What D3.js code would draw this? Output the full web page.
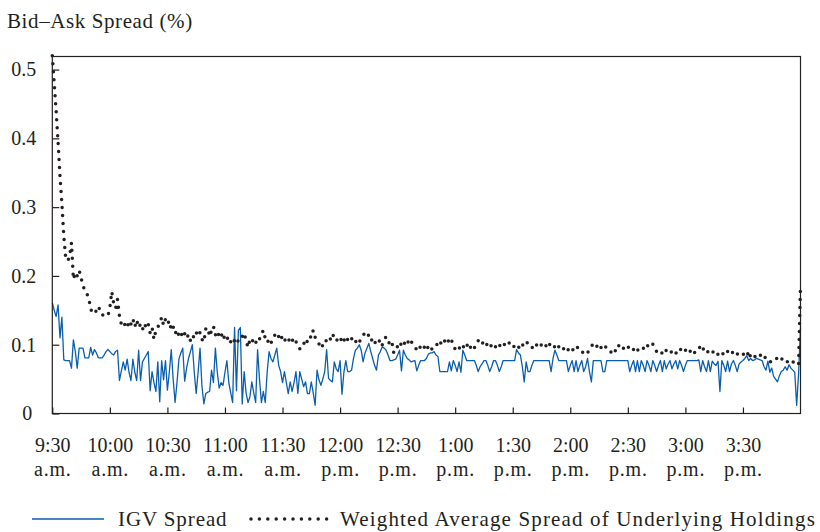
<!DOCTYPE html>
<html><head><meta charset="utf-8">
<script src="https://cdn.jsdelivr.net/npm/d3@7"></script>
<style>
body{margin:0;background:#fff;}
text{font-family:"Liberation Serif","Times New Roman",serif;fill:#231f20;}
</style></head>
<body><svg id="c" width="820" height="532"></svg>
<script>
// minutes after 9:30 a.m. (0..390), one value per minute
const tickMinutes = [0,30,60,90,120,150,180,210,240,270,300,330,360];
const tickTimes = ["9:30","10:00","10:30","11:00","11:30","12:00","12:30","1:00","1:30","2:00","2:30","3:00","3:30"];
const tickPeriods = ["a.m.","a.m.","a.m.","a.m.","a.m.","p.m.","p.m.","p.m.","p.m.","p.m.","p.m.","p.m.","p.m."];
const yTicks = [0,0.1,0.2,0.3,0.4,0.5];
const seriesNames = ["IGV Spread","Weighted Average Spread of Underlying Holdings"];

const igvSpread = [
.161,.150,.141,.158,.110,.140,.078,.077,.077,.077,
.066,.107,.090,.066,.095,.095,.095,.081,.081,.081,
.096,.085,.093,.088,.081,.081,.081,.085,.090,.093,
.090,.087,.085,.090,.092,.048,.062,.075,.063,.079,
.060,.048,.079,.060,.048,.092,.048,.075,.080,.085,
.090,.033,.061,.045,.032,.075,.017,.077,.049,.077,
.034,.060,.093,.050,.016,.045,.079,.088,.095,.047,
.066,.080,.090,.100,.060,.029,.060,.095,.040,.014,
.029,.031,.032,.063,.045,.095,.060,.037,.045,.041,
.060,.077,.045,.030,.016,.125,.033,.121,.125,.014,
.061,.030,.016,.024,.046,.030,.016,.093,.050,.016,
.032,.016,.060,.090,.080,.075,.085,.095,.070,.061,
.045,.061,.045,.029,.046,.032,.045,.061,.029,.061,
.050,.039,.046,.029,.029,.046,.030,.012,.063,.049,
.041,.050,.061,.093,.051,.048,.046,.075,.065,.061,
.077,.028,.060,.077,.061,.061,.063,.080,.092,.095,
.100,.092,.075,.088,.095,.102,.090,.080,.070,.063,
.085,.090,.097,.095,.092,.085,.077,.077,.078,.079,
.085,.092,.062,.092,.085,.080,.078,.075,.076,.077,
.062,.070,.077,.077,.077,.080,.086,.088,.088,.090,
.085,.083,.061,.061,.061,.061,.061,.075,.062,.077,
.070,.061,.075,.060,.092,.085,.077,.077,.077,.077,
.077,.070,.061,.068,.072,.077,.077,.070,.061,.068,
.077,.077,.070,.061,.068,.077,.077,.077,.077,.077,
.077,.077,.093,.088,.085,.068,.046,.075,.061,.061,
.070,.077,.077,.077,.077,.077,.077,.077,.077,.077,
.061,.080,.092,.085,.077,.077,.077,.077,.077,.061,
.070,.077,.061,.077,.061,.070,.077,.061,.068,.080,
.061,.046,.077,.077,.077,.077,.077,.061,.061,.077,
.077,.077,.077,.077,.077,.077,.077,.077,.077,.077,
.077,.061,.070,.077,.061,.077,.061,.077,.070,.061,
.077,.070,.061,.077,.070,.061,.070,.077,.061,.077,
.065,.072,.077,.065,.072,.077,.065,.077,.070,.061,
.070,.077,.077,.077,.077,.077,.077,.078,.061,.077,
.068,.061,.077,.061,.076,.072,.070,.076,.032,.077,
.070,.061,.076,.061,.072,.077,.070,.061,.072,.075,
.077,.080,.084,.077,.080,.077,.078,.080,.079,.078,
.077,.068,.063,.076,.060,.066,.054,.050,.046,.055,
.061,.063,.068,.063,.071,.066,.063,.060,.012,.058,
.125];

const holdingsSpread = [
.520,.480,.440,.395,.345,.305,.258,.225,.222,.228,
.248,.195,.205,.200,.208,.197,.186,.178,.174,.168,
.152,.146,.145,.150,.156,.149,.143,.144,.143,.142,
.154,.177,.160,.153,.166,.142,.130,.134,.128,.133,
.124,.130,.138,.126,.136,.125,.130,.122,.131,.124,
.130,.117,.125,.108,.121,.126,.130,.140,.128,.137,
.130,.135,.121,.126,.116,.122,.113,.118,.110,.116,
.109,.115,.106,.114,.110,.118,.112,.118,.108,.104,
.123,.125,.112,.121,.127,.114,.120,.112,.117,.107,
.114,.108,.112,.104,.110,.105,.110,.104,.109,.112,
.117,.106,.096,.107,.103,.110,.104,.101,.108,.115,
.121,.109,.103,.108,.102,.111,.114,.108,.112,.106,
.114,.108,.104,.109,.103,.108,.101,.105,.097,.094,
.099,.103,.098,.106,.113,.110,.121,.111,.106,.101,
.105,.097,.103,.107,.112,.108,.116,.110,.105,.110,
.112,.103,.108,.102,.108,.104,.109,.103,.106,.100,
.104,.108,.114,.117,.119,.112,.105,.109,.102,.107,
.103,.108,.100,.107,.112,.106,.100,.104,.088,.091,
.098,.104,.099,.105,.100,.106,.101,.106,.098,.096,
.093,.099,.095,.100,.096,.101,.094,.098,.093,.097,
.098,.103,.099,.106,.109,.102,.107,.103,.108,.097,
.094,.098,.094,.099,.095,.102,.098,.103,.096,.100,
.095,.102,.106,.101,.104,.099,.103,.098,.102,.097,
.101,.097,.102,.098,.101,.097,.102,.099,.103,.099,
.101,.095,.093,.097,.093,.099,.102,.106,.100,.098,
.095,.100,.097,.103,.104,.099,.096,.100,.095,.101,
.098,.094,.098,.102,.097,.100,.095,.093,.097,.092,
.095,.091,.096,.093,.097,.093,.091,.087,.090,.088,
.093,.098,.101,.103,.097,.092,.096,.093,.098,.095,
.094,.089,.092,.088,.095,.100,.094,.092,.096,.093,
.097,.094,.097,.093,.088,.092,.094,.097,.094,.100,
.097,.101,.098,.101,.095,.090,.088,.085,.089,.086,
.092,.089,.092,.088,.091,.087,.093,.095,.091,.095,
.092,.089,.093,.088,.092,.088,.090,.093,.100,.096,
.090,.087,.091,.088,.091,.087,.090,.086,.089,.085,
.088,.085,.090,.087,.091,.087,.090,.086,.089,.086,
.087,.084,.082,.091,.082,.085,.082,.086,.083,.085,
.081,.084,.079,.076,.074,.077,.078,.081,.079,.083,
.080,.077,.079,.075,.077,.074,.076,.071,.070,.072,
.187];

const BLUE = "#0b5eae", DARK = "#231f20";
const svg = d3.select("#c");
const L = 52.3, R = 800.5, T = 56.5, B = 413.5;
const x = d3.scaleLinear().domain([0,390]).range([L,R]);
const y = d3.scaleLinear().domain([0,0.519]).range([B,T]);

// title
svg.append("text").attr("x",7).attr("y",28).attr("font-size",21).attr("letter-spacing",0.6).text("Bid–Ask Spread (%)");

// lines
const line = d3.line().x((d,i)=>x(i)).y(d=>y(d));
svg.append("path").datum(igvSpread).attr("d",line).attr("fill","none")
  .attr("stroke",BLUE).attr("stroke-width",1.3).attr("stroke-linejoin","round");
svg.append("path").datum(holdingsSpread).attr("d",line).attr("fill","none")
  .attr("stroke",DARK).attr("stroke-width",3.5).attr("stroke-linecap","round")
  .attr("stroke-dasharray","0 8");

// frame
svg.append("rect").attr("x",L).attr("y",T).attr("width",R-L).attr("height",B-T)
  .attr("fill","none").attr("stroke",DARK).attr("stroke-width",1.2);

// y axis
const ya = svg.append("g").attr("transform",`translate(${L},0)`)
  .call(d3.axisLeft(y).tickValues(yTicks).tickSizeInner(-7).tickSizeOuter(0).tickPadding(16)
    .tickFormat(d=>d===0?"0":d3.format(".1f")(d)));
ya.select(".domain").remove();
ya.selectAll("line").attr("stroke",DARK).attr("stroke-width",1.2);
ya.selectAll("text").attr("font-size",20).attr("font-family",null).attr("fill",DARK)
  .attr("dx",d=>d===0?-4:0);

// x axis
const xa = svg.append("g").attr("transform",`translate(0,${B})`)
  .call(d3.axisBottom(x).tickValues(tickMinutes).tickSizeInner(-6).tickSizeOuter(0)
    .tickFormat(""));
xa.select(".domain").remove();
xa.selectAll("line").attr("stroke",DARK).attr("stroke-width",1.2);
xa.selectAll(".tick").each(function(d,i){
  const t = d3.select(this).append("text").attr("text-anchor","middle").attr("font-size",20).attr("fill",DARK);
  t.append("tspan").attr("x",0).attr("y",38).text(tickTimes[i]);
  t.append("tspan").attr("x",0).attr("y",62).attr("letter-spacing",0.8).text(tickPeriods[i]);
});

// legend
const lg = svg.append("g");
lg.append("line").attr("x1",32).attr("x2",104).attr("y1",519).attr("y2",519)
  .attr("stroke",BLUE).attr("stroke-width",1.3);
lg.append("text").attr("x",118).attr("y",526).attr("font-size",21).attr("letter-spacing",0.9).text(seriesNames[0]);
lg.append("line").attr("x1",251).attr("x2",327).attr("y1",519).attr("y2",519)
  .attr("stroke",DARK).attr("stroke-width",3.5).attr("stroke-linecap","round").attr("stroke-dasharray","0 8.4");
lg.append("text").attr("x",340).attr("y",526).attr("font-size",21).attr("letter-spacing",1.15).text(seriesNames[1]);
</script></body></html>
